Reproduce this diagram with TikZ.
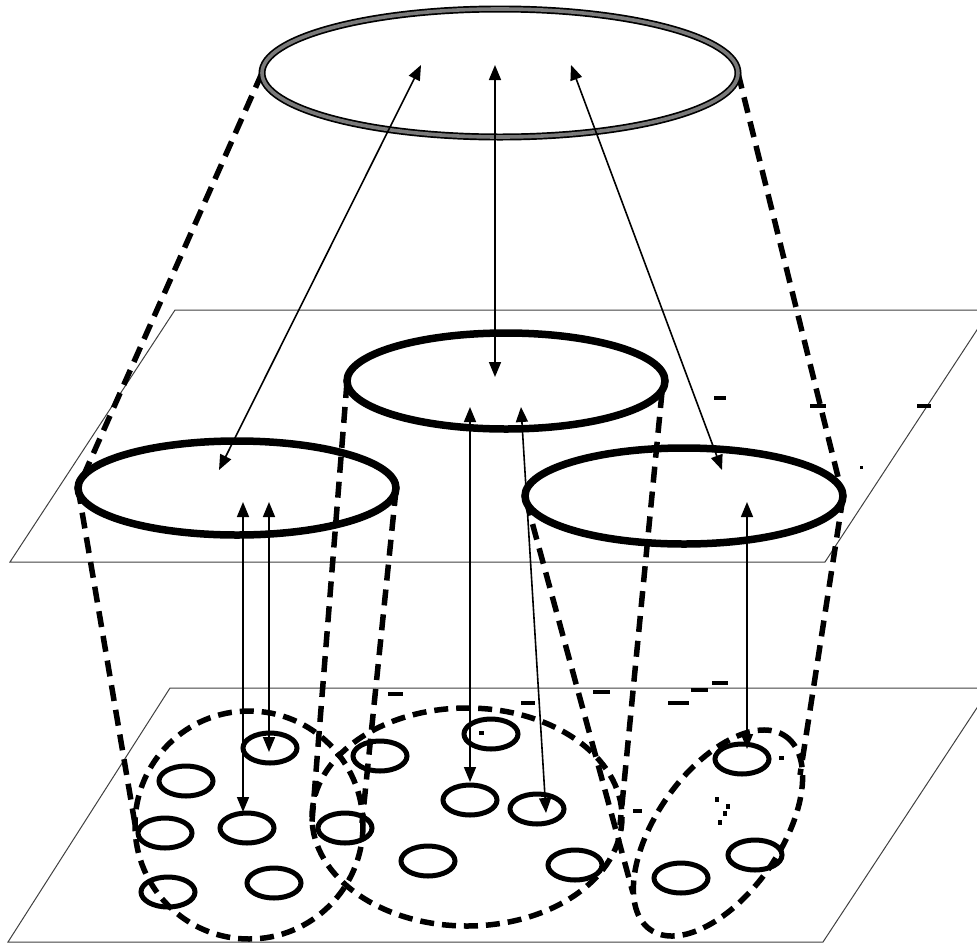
\documentclass[tikz,border=0pt]{standalone}
\usetikzlibrary{arrows.meta}
\begin{document}
\begin{tikzpicture}[x=1pt,y=-1pt,
  plane/.style={draw=black!75,line width=1pt},
  toprim/.style={draw=black,line width=7pt},
  toprimin/.style={draw=black!52,line width=3.6pt},
  midrim/.style={draw=black,line width=7.5pt},
  dashline/.style={draw=black,line width=5.5pt,dash pattern=on 16pt off 9pt},
  dashring/.style={draw=black,line width=5.5pt,dash pattern=on 14pt off 8pt},
  cell/.style={draw=black,line width=5pt},
  link/.style={draw=black,line width=1.6pt,{Triangle[length=15pt,width=12pt]}-{Triangle[length=15pt,width=12pt]}},
  speck/.style={fill=black}]
\useasboundingbox (0,0) rectangle (977,943);
% planes
\begin{scope}
\clip (0,0) rectangle (977,943);
\draw[plane] (10,562) -- (175,310) -- (990,310) -- (825,562) -- cycle;
\draw[plane] (8,942) -- (170,688) -- (990,688) -- (823,942) -- cycle;
\end{scope}
% named points
\coordinate (topL) at (262,73);
\coordinate (topR) at (738,73);
\coordinate (lL) at (78,488);
\coordinate (lR) at (396,490);
\coordinate (cL) at (347,382);
\coordinate (cR) at (662,392);
\coordinate (rL) at (526,500);
\coordinate (rR) at (843,497);
\coordinate (bLl) at (136,830);
\coordinate (bLr) at (362,823);
\coordinate (bCl) at (312,822);
\coordinate (bCr) at (620,825);
\coordinate (bRl) at (633,893);
\coordinate (bRr) at (800,775);
% dashed projection lines
\draw[dashline] (topL) -- (lL);
\draw[dashline] (topR) -- (rR);
\draw[dashline] (lL) -- (bLl);
\draw[dashline] (lR) -- (bLr);
\draw[dashline] (cL) -- (bCl);
\draw[dashline] (cR) -- (bCr);
\draw[dashline] (rL) -- (bRl);
\draw[dashline] (rR) -- (bRr);
% top ellipse
\draw[toprim] (500,73) ellipse [x radius=238, y radius=64];
\draw[toprimin] (500,73) ellipse [x radius=238, y radius=64];
% middle ellipses
\draw[midrim] (506,381) ellipse [x radius=159, y radius=48];
\draw[midrim] (237,488) ellipse [x radius=159, y radius=47];
\draw[midrim] (684,496) ellipse [x radius=159, y radius=48];
% bottom dashed groups
\draw[dashring] (249,825) ellipse [x radius=114, y radius=114];
\draw[dashring] (467,817) ellipse [x radius=155, y radius=109];
\draw[dashring,rotate around={55:(718,833)}] (718,833) ellipse [x radius=118, y radius=62];
% small cells
\foreach \p in {(270,748),(186,781),(247,828),(165,833),(274,883),(168,892),(345,828),(380,756),(491,734),(470,800),(537,809),(428,861),(575,865),(742,759),(755,855),(681,878)}
  \draw[cell] \p ellipse [x radius=27, y radius=15];
% arrows
\coordinate (a1t) at (421,65);  \coordinate (a1b) at (219,470);
\coordinate (a2t) at (495,65);  \coordinate (a2b) at (495,377);
\coordinate (a3t) at (571,65);  \coordinate (a3b) at (722,470);
\coordinate (d1t) at (243,502); \coordinate (d1b) at (243,812);
\coordinate (d2t) at (269,502); \coordinate (d2b) at (269,752);
\coordinate (e1t) at (470,407); \coordinate (e1b) at (470,782);
\coordinate (f1t) at (521,407); \coordinate (f1b) at (546,813);
\coordinate (g1t) at (747,502); \coordinate (g1b) at (747,749);
\draw[link] (a1t) -- (a1b);
\draw[link] (a2t) -- (a2b);
\draw[link] (a3t) -- (a3b);
\draw[link] (d1t) -- (d1b);
\draw[link] (d2t) -- (d2b);
\draw[link] (e1t) -- (e1b);
\draw[link] (f1t) -- (f1b);
\draw[link] (g1t) -- (g1b);
% specks
\fill[speck] (714,396) rectangle (726,400);
\fill[speck] (810,404) rectangle (826,408);
\fill[speck] (917,404) rectangle (931,408);
\fill[speck] (860,466) rectangle (863,469);
\fill[speck] (388,692) rectangle (403,696);
\fill[speck] (521,701) rectangle (535,705);
\fill[speck] (668,701) rectangle (689,705);
\fill[speck] (593,690) rectangle (610,694);
\fill[speck] (691,688) rectangle (708,692);
\fill[speck] (712,681) rectangle (728,685);
\fill[speck] (633,809) rectangle (642,813);
\fill[speck] (715,797) rectangle (719,802);
\fill[speck] (726,804) rectangle (730,809);
\fill[speck] (723,811) rectangle (727,816);
\fill[speck] (718,820) rectangle (722,825);
\fill[speck] (779,756) rectangle (784,760);
\fill[speck] (479,731) rectangle (484,735);
\end{tikzpicture}
\end{document}
